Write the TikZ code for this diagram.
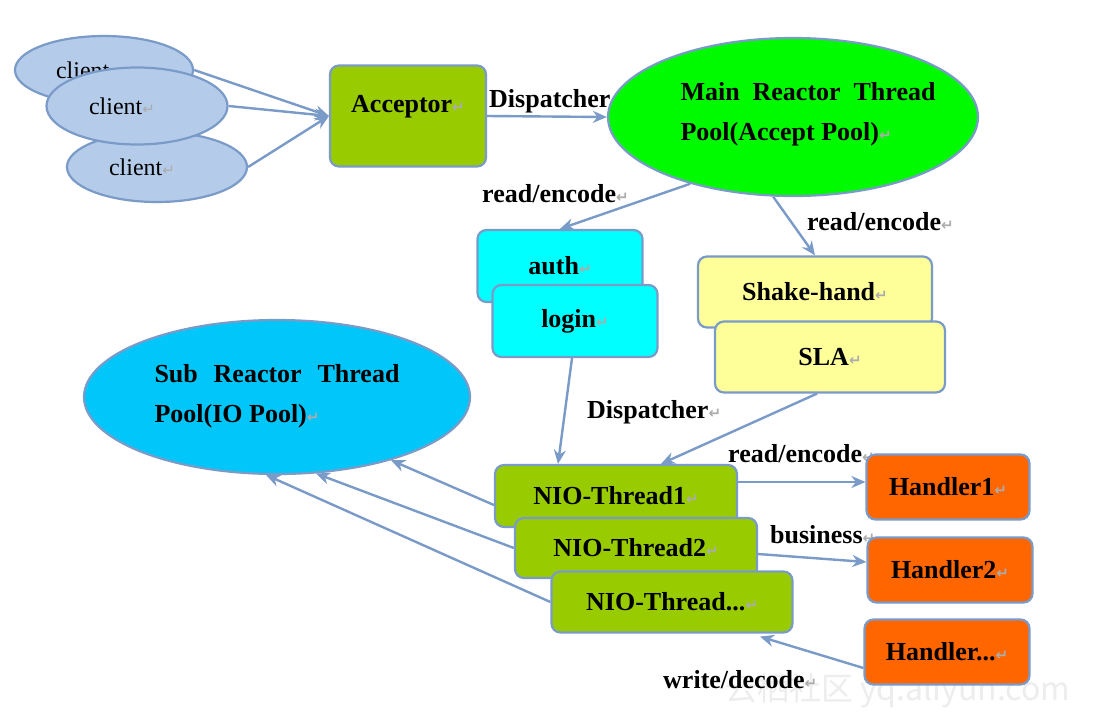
\documentclass[tikz,border=0pt]{standalone}
\usepackage{fontspec}
\setmainfont{Liberation Serif}
\newfontfamily\dejavu{DejaVu Sans}
\newfontfamily\cjk{Noto Sans CJK SC}
\usetikzlibrary{shapes.geometric,arrows.meta,calc}
\definecolor{edge}{RGB}{122,154,200}
\definecolor{lime}{RGB}{153,204,0}
\definecolor{brightgreen}{RGB}{0,250,0}
\definecolor{aqua}{RGB}{0,255,255}
\definecolor{paleyellow}{RGB}{255,255,153}
\definecolor{skyblue}{RGB}{0,198,250}
\definecolor{orangered}{RGB}{255,102,0}
\definecolor{clientblue}{RGB}{180,204,234}
\newcommand{\ret}{{\dejavu\fontsize{15}{15}\selectfont\color{gray!65}↵}}
\newcommand{\shiftl}[1]{\kern-15pt #1\kern15pt}
\begin{document}
\begin{tikzpicture}[x=1pt,y=-1pt,
  boxnode/.style={draw=edge, line width=2.2pt, rounded corners=9pt, inner sep=0pt,
    font=\bfseries\fontsize{26}{40}\selectfont},
  oval/.style={ellipse, draw=edge, line width=2.2pt, inner sep=0pt},
  conn/.style={draw=edge, line width=2.4pt, -{Stealth[length=14pt,width=12pt]}},
  lbl/.style={font=\bfseries\fontsize{26}{40}\selectfont, inner sep=0pt, anchor=base west},
  btext/.style={font=\bfseries\fontsize{26}{40}\selectfont, inner sep=0pt, align=left},
  clientnode/.style={oval, fill=clientblue, font=\fontsize{24}{28}\selectfont}]
\useasboundingbox[fill=white] (0,0) rectangle (1093,721);

% watermark (faint, behind everything)
\node[font=\cjk\fontsize{32}{32}\selectfont, text=gray!14, anchor=base west, inner sep=0pt] (wm)
  at (725,700) {云栖社区 yq.aliyun.com};

% clients
\node[clientnode, minimum width=178, minimum height=68] (c1) at (104,70) {\shiftl{client\ret}};
\node[clientnode, minimum width=180, minimum height=70] (c3) at (157,167) {\shiftl{client\ret}};
\node[clientnode, minimum width=181, minimum height=77] (c2) at (137,106) {\shiftl{client\ret}};

% acceptor
\node[boxnode, fill=lime, minimum width=156, minimum height=101] (acc) at (408,116)
  {\raisebox{4pt}[0pt][0pt]{Acceptor\ret}};

% dispatcher label (partly under the ellipse)
\node[lbl] (disp1) at (489,107) {Dispatcher\ret};

% main reactor
\node[oval, fill=brightgreen, minimum width=370, minimum height=158] (main) at (793,117) {};
\node[btext] (maintext) at (808,114)
  {\makebox[255pt][s]{Main Reactor Thread}\\Pool(Accept Pool)\ret};

% auth / login
\node[boxnode, fill=aqua, minimum width=165, minimum height=72] (auth) at (560,266) {auth\ret};
\node[boxnode, fill=aqua, minimum width=165, minimum height=72] (login) at (575,321) {login\ret};

% shake-hand / SLA
\node[boxnode, fill=paleyellow, minimum width=234, minimum height=71] (shake) at (815,292) {Shake-hand\ret};
\node[boxnode, fill=paleyellow, minimum width=230, minimum height=71] (sla) at (830,357) {SLA\ret};

% sub reactor
\node[oval, fill=skyblue, minimum width=386, minimum height=154] (sub) at (277,397) {};
\node[btext] (subtext) at (277,396)
  {\makebox[245pt][s]{Sub Reactor Thread}\\Pool(IO Pool)\ret};

% labels
\node[lbl] (re1) at (482,202) {read/encode\ret};
\node[lbl] (re2) at (807,230) {read/encode\ret};
\node[lbl] (disp2) at (587,418) {Dispatcher\ret};
\node[lbl] (re3) at (728,462) {read/encode\ret};
\node[lbl] (bus) at (770,543) {business\ret};
\node[lbl] (wd) at (663,688) {write/decode\ret};

% NIO threads
\node[boxnode, fill=lime, minimum width=242, minimum height=62] (nio1) at (616,496) {NIO-Thread1\ret};
\node[boxnode, fill=lime, minimum width=242, minimum height=60] (nio2) at (636,548) {NIO-Thread2\ret};
\node[boxnode, fill=lime, minimum width=241, minimum height=61] (nio3) at (672,602) {NIO-Thread...\ret};

% handlers
\node[boxnode, fill=orangered, minimum width=163, minimum height=65] (h1) at (948,487) {Handler1\ret};
\node[boxnode, fill=orangered, minimum width=165, minimum height=65] (h2) at (950,570) {Handler2\ret};
\node[boxnode, fill=orangered, minimum width=165, minimum height=65] (h3) at (947,652) {Handler...\ret};

% connectors
\draw[conn] (c1.east) -- (acc.west);
\draw[conn] (c2.east) -- (acc.west);
\draw[conn] (c3.east) -- (acc.west);
\draw[conn] (acc.east) -- (main.west);
\draw[conn] (main.-147) -- (auth.north);
\draw[conn] (main.-104) -- (shake.north);
\draw[conn] ($(login.south)+(-3,0)$) -- ($(nio1.north)+(-58,0)$);
\draw[conn] ($(sla.south)+(-13,0)$) -- ($(nio1.north)+(45,0)$);
\draw[conn] ($(nio1.east)+(0,-14)$) -- ($(h1.west)+(0,-5)$);
\draw[conn] ($(nio2.east)+(0,6)$) -- ($(h2.west)+(0,-8)$);
\draw[conn] ($(h3.west)+(0,16)$) -- ($(nio3.south)+(88,3)$);
\draw[conn] ($(nio1.west)+(0,9)$) -- (sub.-29);
\draw[conn] (nio2.west) -- (sub.-63);
\draw[conn] (nio3.west) -- (sub.-98);
\end{tikzpicture}
\end{document}
